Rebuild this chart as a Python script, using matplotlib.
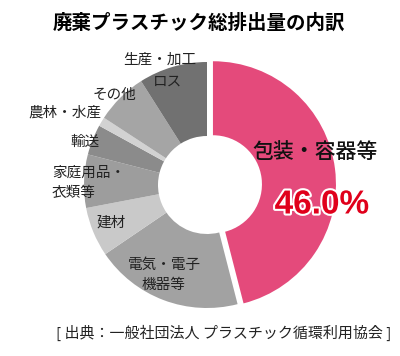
import matplotlib.pyplot as plt
import matplotlib.patheffects as pe

plt.rcParams['font.family'] = ['Noto Sans CJK JP', 'DejaVu Sans']

categories = ['包装・容器等', '電気・電子機器等', '建材', '家庭用品・衣類等',
              '輸送', '農林・水産', 'その他', '生産・加工ロス']
shares = [46.0, 19.5, 6.5, 7.0, 4.0, 1.2, 6.8, 9.0]
colors = ['#e44a7b', '#a2a2a2', '#c9c9c9', '#9d9d9d',
          '#8b8b8b', '#d2d2d2', '#a5a5a5', '#717171']
explode = [6, 0, 0, 0, 0, 0, 0, 0]

fig = plt.figure(figsize=(4.0, 3.56), dpi=100)
ax = fig.add_axes([0, 0, 1, 1])

ax.pie(shares, colors=colors, explode=explode, startangle=90, counterclock=False,
       radius=123, center=(207, 171), frame=True,
       wedgeprops=dict(width=74, linewidth=0))
ax.set_xlim(0, 400)
ax.set_ylim(0, 356)
ax.set_aspect('equal')
ax.axis('off')

def py(y):
    return 356 - y

ax.text(199, py(23), '廃棄プラスチック総排出量の内訳', ha='center', va='center',
        fontsize=14, fontweight='bold')

lab = dict(fontsize=10.5, va='center', color='#222222')
ax.text(160, py(60), '生産・加工', ha='center', **lab)
ax.text(168, py(82), 'ロス', ha='center', **lab)
ax.text(114, py(95), 'その他', ha='center', **lab)
ax.text(65, py(113), '農林・水産', ha='center', **lab)
ax.text(85, py(142), '輸送', ha='center', **lab)
ax.text(52, py(173), '家庭用品・', ha='left', **lab)
ax.text(52, py(193), '衣類等', ha='left', **lab)
ax.text(111, py(223), '建材', ha='center', **lab)
ax.text(164, py(265), '電気・電子', ha='center', **lab)
ax.text(163, py(285), '機器等', ha='center', **lab)

ax.text(315, py(152), categories[0], ha='center', va='center', fontsize=15,
        color='#111111', fontweight='medium')
ax.text(322, py(205), f'{shares[0]:.1f}%', ha='center', va='center', fontsize=24,
        fontweight='bold', color='#e0001b', family='Liberation Sans',
        path_effects=[pe.withStroke(linewidth=3, foreground='white')])

ax.text(224, py(333), '[ 出典：一般社団法人 プラスチック循環利用協会 ]',
        ha='center', va='center', fontsize=10.8, color='#222222')

fig.savefig('out.png', dpi=100)
